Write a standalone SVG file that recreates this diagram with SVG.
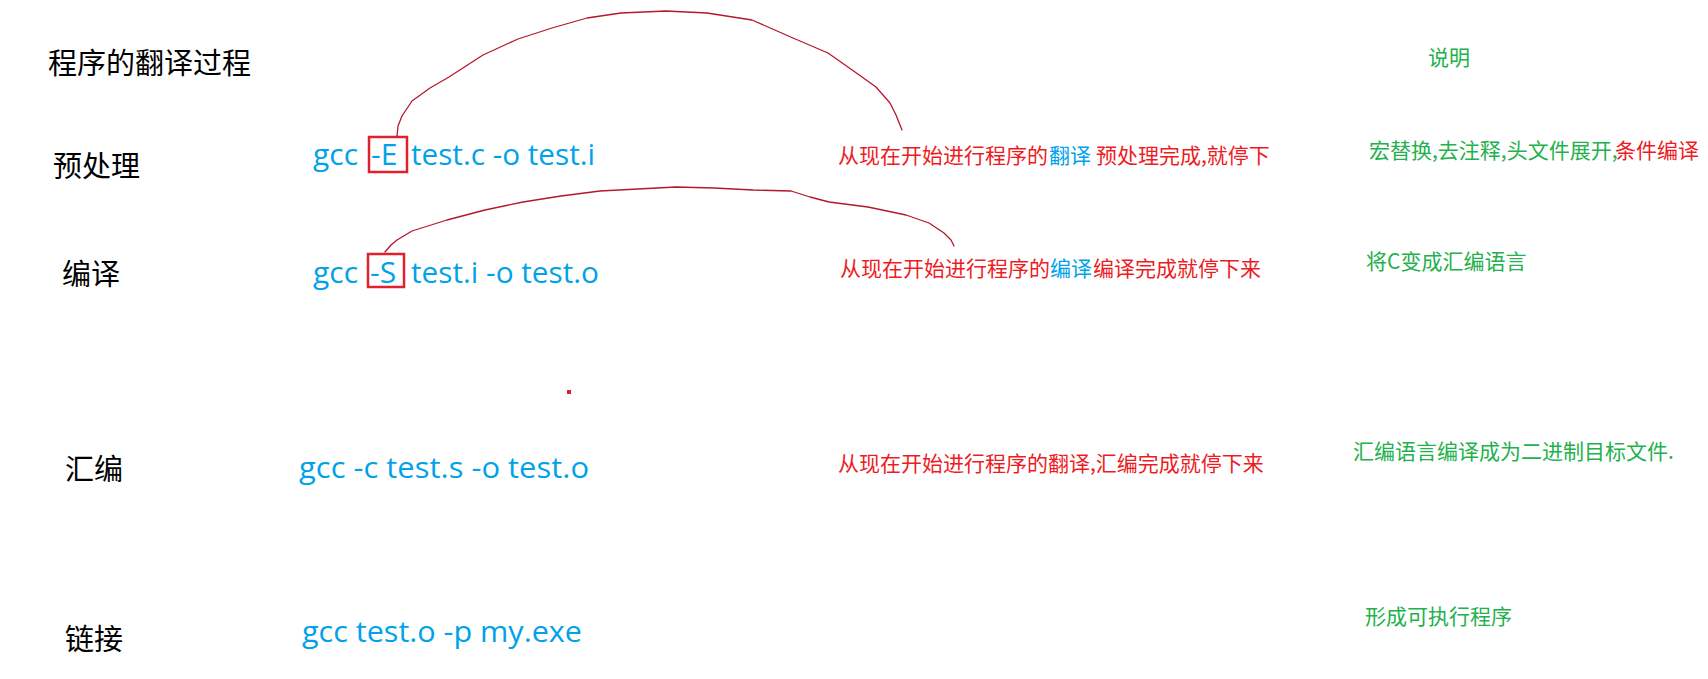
<svg xmlns="http://www.w3.org/2000/svg" width="1708" height="679" viewBox="0 0 1708 679">
<style>
.lbl{font-family:"Noto Sans CJK SC","Noto Sans",sans-serif;font-size:29px;fill:#000}
.cmd{font-family:"Open Sans","Noto Sans",sans-serif;font-size:30px;fill:#00a2e8}
.note{font-family:"Noto Sans CJK SC","Noto Sans",sans-serif;font-size:21px}
.red{fill:#ed1c24}
.blue{fill:#00a2e8}
.green{fill:#22b14c}
.box{fill:none;stroke:#e0202a;stroke-width:2.5}
.arc{fill:none;stroke:#b3182c;stroke-width:1.3;stroke-linejoin:round;stroke-linecap:round}
</style>
<rect width="1708" height="679" fill="#fff"/>

<g id="title"><text class="lbl" x="48" y="74">程序的翻译过程</text></g>
<g id="header-note"><text class="note green" x="1428" y="65">说明</text></g>

<g id="stage-preprocess">
  <text class="lbl" x="53" y="177">预处理</text>
  <text class="cmd" x="313" y="165">gcc</text>
  <text class="cmd" x="371" y="165">-E</text>
  <text class="cmd" x="411" y="165" textLength="184" lengthAdjust="spacingAndGlyphs">test.c -o test.i</text>
  <rect class="box" x="369" y="137" width="38" height="35"/>
  <text class="note red" x="838" y="163">从现在开始进行程序的</text>
  <text class="note blue" x="1049" y="163">翻译</text>
  <text class="note red" x="1096" y="163">预处理完成,就停下</text>
  <text class="note green" x="1369" y="158">宏替换,去注释,头文件展开,</text>
  <text class="note red" x="1615" y="158">条件编译</text>
</g>

<g id="stage-compile">
  <text class="lbl" x="62" y="285">编译</text>
  <text class="cmd" x="313" y="283">gcc</text>
  <text class="cmd" x="370" y="283">-S</text>
  <text class="cmd" x="411" y="283" textLength="188" lengthAdjust="spacingAndGlyphs">test.i -o test.o</text>
  <rect class="box" x="368" y="254" width="36" height="33"/>
  <text class="note red" x="840" y="276">从现在开始进行程序的</text>
  <text class="note blue" x="1050" y="276">编译</text>
  <text class="note red" x="1093" y="276">编译完成就停下来</text>
  <text class="note green" x="1366" y="269">将C变成汇编语言</text>
</g>

<g id="stage-assemble">
  <text class="lbl" x="65" y="480">汇编</text>
  <text class="cmd" x="299" y="478" textLength="290" lengthAdjust="spacingAndGlyphs">gcc -c test.s -o test.o</text>
  <text class="note red" x="838" y="471">从现在开始进行程序的翻译,汇编完成就停下来</text>
  <text class="note green" x="1353" y="459">汇编语言编译成为二进制目标文件.</text>
</g>

<g id="stage-link">
  <text class="lbl" x="65" y="650">链接</text>
  <text class="cmd" x="302" y="642" textLength="280" lengthAdjust="spacingAndGlyphs">gcc test.o -p my.exe</text>
  <text class="note green" x="1365" y="624">形成可执行程序</text>
</g>

<g id="dot"><rect x="567" y="390" width="4" height="4" fill="#d9232e"/></g>

<g id="connectors">
  <path class="arc" d="M397,136 L398,126 L402,116 L412,101 L430,88 L449,77 L483,55 L518,39 L552,28 L587,18 L621,13 L666,11 L707,13 L752,20 L793,38 L828,53 L855,72 L876,87 L890,103 L896,115 L902,130"/>
  <path class="arc" d="M385,252 L391,245 L397,240 L412,231 L447,220 L485,210 L523,202 L561,196 L600,191 L638,189 L676,187 L714,188 L753,190 L791,191 L810,197 L829,202 L868,207 L906,215 L929,223 L944,233 L951,240 L954,246"/>
</g>
</svg>
